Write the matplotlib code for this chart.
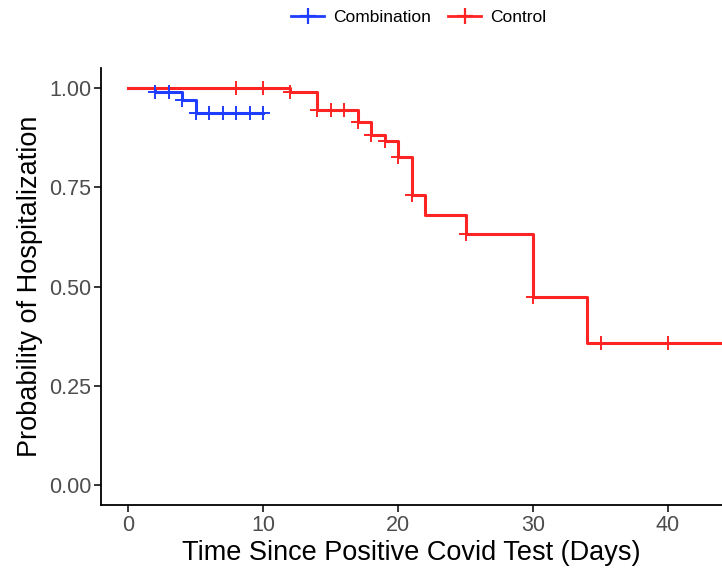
import numpy as np
from matplotlib import pyplot as plt
from matplotlib.lines import Line2D

plt.rcParams['font.family'] = ['Liberation Sans', 'DejaVu Sans']

# Kaplan-Meier steps
combo_time = [0, 2, 4, 5, 10]
combo_surv = [1.0, 0.99, 0.97, 0.937, 0.937]
combo_cens = [2, 3, 4, 5, 6, 7, 8, 9, 10]

ctrl_time = [0, 12, 14, 17, 18, 19, 20, 21, 22, 25, 30, 34, 45]
ctrl_surv = [1.0, 0.99, 0.945, 0.915, 0.882, 0.867, 0.827, 0.73, 0.68, 0.633, 0.475, 0.357, 0.357]
ctrl_cens = [8, 10, 12, 14, 15, 16, 17, 18, 19, 20, 21, 25, 30, 35, 40]

blue = '#1f3dff'
red = '#ff2424'


def surv_at(times, surv, t):
    idx = np.searchsorted(times, t, side='right') - 1
    return np.asarray(surv)[idx]


fig = plt.figure(figsize=(7.22, 5.74), dpi=100)
ax = fig.add_axes([0.14, 0.12, 0.86, 0.7615])

for times, surv, cens, col in [(combo_time, combo_surv, combo_cens, blue),
                               (ctrl_time, ctrl_surv, ctrl_cens, red)]:
    ax.step(times, surv, where='post', color=col, lw=2.2, zorder=3)
    ax.plot(cens, surv_at(times, surv, cens), ls='none', marker='+',
            ms=10, mew=1.4, color=col, zorder=4)

ax.set_xlim(-2, 44)
ax.set_ylim(-0.05, 1.05)
ax.set_xticks([0, 10, 20, 30, 40])
ax.set_yticks([0, 0.25, 0.5, 0.75, 1.0])
ax.set_yticklabels(['0.00', '0.25', '0.50', '0.75', '1.00'])
ax.spines['top'].set_visible(False)
ax.spines['right'].set_visible(False)
ax.spines['left'].set_linewidth(1.3)
ax.spines['bottom'].set_linewidth(1.3)
ax.tick_params(labelsize=15.5, labelcolor='#4d4d4d', length=5, width=1.1, pad=2)
ax.set_xlabel('Time Since Positive Covid Test (Days)', fontsize=19.5, labelpad=3)
ax.set_ylabel('Probability of Hospitalization', fontsize=19.5, labelpad=4)

handles = [Line2D([], [], color=blue, lw=2, marker='+', ms=11, mew=1.6),
           Line2D([], [], color=red, lw=2, marker='+', ms=11, mew=1.6)]
fig.legend(handles, ['Combination', 'Control'], loc='upper center',
           bbox_to_anchor=(0.58, 1.01), ncol=2, frameon=False, fontsize=12.5,
           handlelength=1.9, columnspacing=1.0, handletextpad=0.5)

fig.savefig('out.png', dpi=100)
